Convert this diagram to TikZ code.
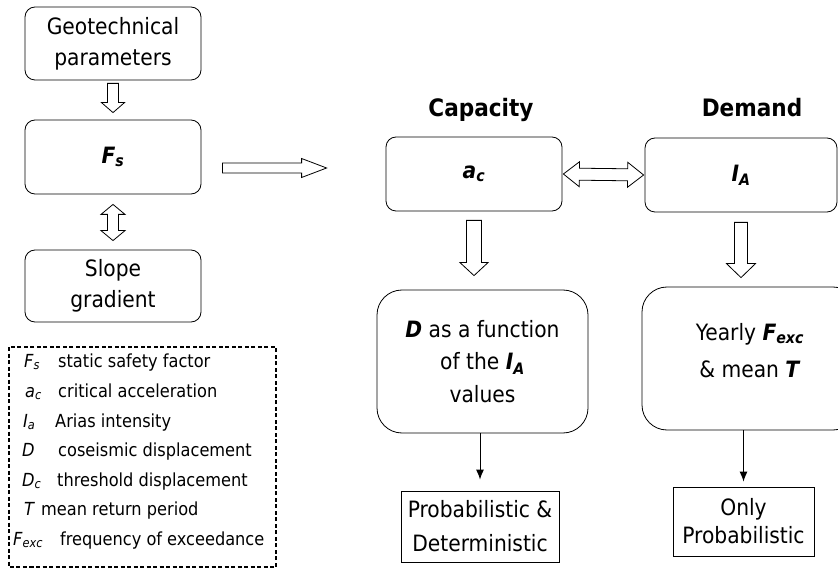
\documentclass[tikz,border=0pt]{standalone}
\usepackage{fontspec}
\setmainfont{DejaVu Sans Condensed}[
  BoldFont={DejaVu Sans Condensed Bold},
  ItalicFont={DejaVu Sans Condensed Oblique},
  BoldItalicFont={DejaVu Sans Condensed Bold Oblique}]
\usepackage{tikz}
\usetikzlibrary{calc,arrows.meta}

\newcommand\bi[1]{\textbf{\textit{#1}}}
\newcommand\lsym[2]{\textit{#1}\textsubscript{\textit{#2}}}

\tikzset{
  arw/.store in=\arw, arh/.store in=\arh, arl/.store in=\arl,
  ara/.store in=\ara, arb/.store in=\arb,
  arw=5.5pt, arh=11.5pt, arl=10pt, ara=3pt, arb=7pt,
  rbox/.style={draw, line width=0.8pt, rounded corners=10pt, align=center,
    inner sep=0pt, font=\fontsize{22.5}{31}\selectfont},
  sbox/.style={rbox, sharp corners},
  title/.style={anchor=base, font=\bfseries\fontsize{24}{28}\selectfont},
  legtext/.style={anchor=base west, inner sep=0pt, font=\fontsize{18}{22}\selectfont},
  thinarrow/.style={line width=1pt, -{Latex[length=10pt,width=8pt]}},
  hollow/.style={draw, fill=white, line width=0.8pt, to path={
    ($(\tikztostart)!\ara!(\tikztotarget)!\arw!90:(\tikztotarget)$)
    -- ($(\tikztotarget)!{\arb+\arl}!(\tikztostart)!\arw!90:(\tikztotarget)$)
    -- ($(\tikztotarget)!{\arb+\arl}!(\tikztostart)!\arh!90:(\tikztotarget)$)
    -- ($(\tikztotarget)!\arb!(\tikztostart)$)
    -- ($(\tikztotarget)!{\arb+\arl}!(\tikztostart)!\arh!-90:(\tikztotarget)$)
    -- ($(\tikztotarget)!{\arb+\arl}!(\tikztostart)!\arw!-90:(\tikztotarget)$)
    -- ($(\tikztostart)!\ara!(\tikztotarget)!\arw!-90:(\tikztotarget)$)
    -- cycle}},
  hollowboth/.style={draw, fill=white, line width=0.8pt, to path={
    ($(\tikztostart)!\ara!(\tikztotarget)$)
    -- ($(\tikztostart)!{\ara+\arl}!(\tikztotarget)!\arh!90:(\tikztotarget)$)
    -- ($(\tikztostart)!{\ara+\arl}!(\tikztotarget)!\arw!90:(\tikztotarget)$)
    -- ($(\tikztotarget)!{\arb+\arl}!(\tikztostart)!\arw!90:(\tikztotarget)$)
    -- ($(\tikztotarget)!{\arb+\arl}!(\tikztostart)!\arh!90:(\tikztotarget)$)
    -- ($(\tikztotarget)!\arb!(\tikztostart)$)
    -- ($(\tikztotarget)!{\arb+\arl}!(\tikztostart)!\arh!-90:(\tikztotarget)$)
    -- ($(\tikztotarget)!{\arb+\arl}!(\tikztostart)!\arw!-90:(\tikztotarget)$)
    -- ($(\tikztostart)!{\ara+\arl}!(\tikztotarget)!\arw!-90:(\tikztotarget)$)
    -- ($(\tikztostart)!{\ara+\arl}!(\tikztotarget)!\arh!-90:(\tikztotarget)$)
    -- cycle}}
}

\begin{document}
\begin{tikzpicture}[x=1pt,y=-1pt]
\useasboundingbox (0,0) rectangle (838,569);
% left column
\node[rbox, minimum width=176, minimum height=73] (geo) at (113,43.5) {Geotechnical\\parameters};
\node[rbox, minimum width=176, minimum height=74] (fs) at (113,157) {\bi{F\textsubscript{s}}};
\node[rbox, minimum width=176, minimum height=72] (slope) at (113,286) {Slope\\gradient};
% capacity and demand
\node[title] (cap) at (481,117) {Capacity};
\node[title] (dem) at (752,117) {Demand};
\node[rbox, minimum width=176, minimum height=74] (ac) at (474,174) {\bi{a\textsubscript{c}}};
\node[rbox, minimum width=192, minimum height=74] (ia) at (741,175) {\bi{I\textsubscript{A}}};
\node[rbox, rounded corners=25pt, minimum width=211, minimum height=143,
  font=\fontsize{22.5}{32.5}\selectfont] (dfun) at (482.5,361.5)
  {\bi{D} as a function\\of the \bi{I\textsubscript{A}}\\values};
\node[rbox, rounded corners=25pt, minimum width=216, minimum height=143, text depth=16pt,
  font=\fontsize{22.5}{37}\selectfont] (yearly) at (750,358.5)
  {Yearly \bi{F\textsubscript{exc}}\\\& mean \bi{T}};
\node[sbox, minimum width=158, minimum height=71, font=\fontsize{22.5}{34}\selectfont]
  (prob) at (480,526.5) {Probabilistic \&\\Deterministic};
\node[sbox, minimum width=141, minimum height=69, font=\fontsize{22.5}{28}\selectfont]
  (only) at (743.5,521.5) {Only\\Probabilistic};

% block arrows
\draw[hollow] (geo.south) to (fs.north);
\draw[hollowboth, ara=10pt, arb=9pt, arh=12pt] (fs.south) to (slope.north);
\coordinate (fsr) at ([yshift=-11pt]fs.east);
\draw[hollow, ara=21pt, arb=59pt, arw=5pt, arh=9.5pt, arl=25pt] (fsr) to (fsr -| ac.west);
\draw[hollowboth, ara=1pt, arb=1pt, arw=6pt, arh=12.5pt, arl=16pt] (ac.east) to (ia.west);
\draw[hollow, ara=9pt, arb=14pt, arw=7.5pt, arh=14pt, arl=13pt] (ac.south) to (ac.south |- dfun.north);
\draw[hollow, ara=10pt, arb=9pt, arw=6.5pt, arh=14.5pt, arl=14pt] (ia.south) to (ia.south |- yearly.north);

% thin arrows
\draw[thinarrow, shorten >=11pt] (prob.north |- dfun.south) -- (prob.north);
\draw[thinarrow, shorten >=5pt] (only.north |- yearly.south) -- (only.north);

% legend
\draw[line width=1.3pt, dash pattern=on 4pt off 2.5pt] (9,347) rectangle (276,567);
\foreach \y/\sx/\sym/\tx/\txt in {
  361/24/{\lsym{F}{s}}/58/{static safety factor},
  391/25/{\lsym{a}{c}}/58/{critical acceleration},
  421/23/{\lsym{I}{a}}/55/{Arias intensity},
  450/22/{\textit{D}}/58/{coseismic displacement},
  480/22/{\lsym{D}{c}}/57/{threshold displacement},
  509/24/{\textit{T}}/41/{mean return period},
  539/13/{\lsym{F}{exc}}/60/{frequency of exceedance}}
{
  \node[legtext] (s\y) at (\sx,\y+6) {\sym};
  \node[legtext] (t\y) at (\tx,\y+6) {\txt};
}
\end{tikzpicture}
\end{document}
